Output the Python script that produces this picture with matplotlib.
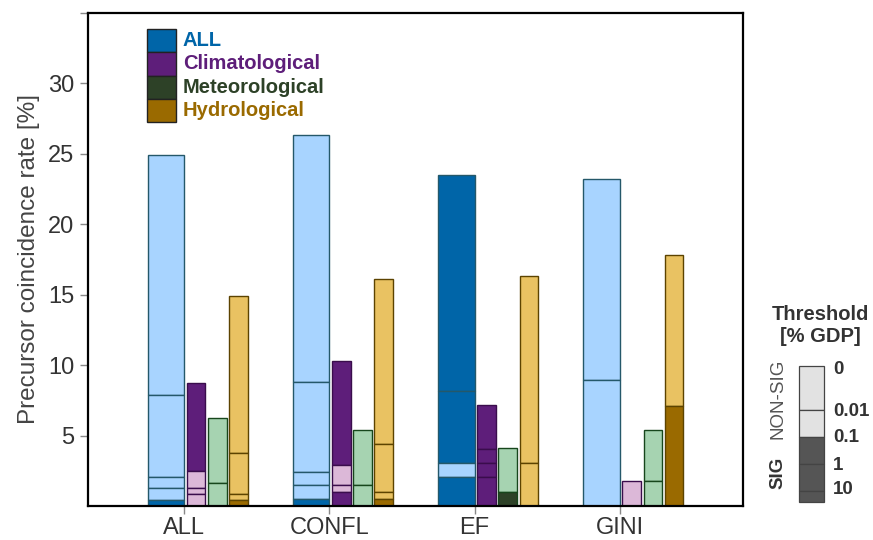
import matplotlib
matplotlib.use("Agg")
import matplotlib.pyplot as plt
from matplotlib.patches import Rectangle

plt.rcParams['font.family'] = ['Liberation Sans', 'DejaVu Sans']

groups = ['ALL', 'CONFL', 'EF', 'GINI']
categories = ['ALL', 'Climatological', 'Meteorological', 'Hydrological']
thresholds = ['0', '0.01', '0.1', '1', '10']

# rate [%] at thresholds 0, 0.01, 0.1, 1, 10 (% GDP) for each group / category
rates_ALL = [[24.9, 7.9, 2.06, 1.26, 0.43],
             [8.72, 2.49, 1.26, 0.83, 0.0],
             [6.24, 1.66, 0.0, 0.0, 0.0],
             [14.93, 3.75, 0.83, 0.43, 0.0]]
rates_CONFL = [[26.35, 8.8, 2.44, 1.47, 0.5],
               [10.26, 2.92, 1.47, 1.0, 0.0],
               [5.38, 1.47, 0.0, 0.0, 0.0],
               [16.1, 4.39, 0.97, 0.5, 0.0]]
rates_EF = [[23.47, 8.15, 3.03, 2.06, 0.0],
            [7.16, 4.08, 3.06, 2.06, 0.0],
            [4.1, 1.02, 0.0, 0.0, 0.0],
            [16.35, 3.06, 0.0, 0.0, 0.0]]
rates_GINI = [[23.2, 8.94, 0.0, 0.0, 0.0],
              [1.78, 0.0, 0.0, 0.0, 0.0],
              [5.38, 1.78, 0.0, 0.0, 0.0],
              [17.85, 7.13, 0.0, 0.0, 0.0]]

# significance of each segment (1 = SIG, 0 = NON-SIG)
sig_ALL = [[0, 0, 0, 0, 1], [1, 0, 0, 0, 0], [0, 0, 0, 0, 0], [0, 0, 0, 1, 0]]
sig_CONFL = [[0, 0, 0, 0, 1], [1, 0, 0, 1, 0], [0, 0, 0, 0, 0], [0, 0, 0, 1, 0]]
sig_EF = [[1, 1, 0, 1, 0], [1, 1, 1, 1, 1], [0, 1, 0, 0, 0], [0, 0, 0, 0, 0]]
sig_GINI = [[0, 0, 0, 0, 0], [0, 0, 0, 0, 0], [0, 0, 0, 0, 0], [0, 1, 0, 0, 0]]

rates = [rates_ALL, rates_CONFL, rates_EF, rates_GINI]
sigs = [sig_ALL, sig_CONFL, sig_EF, sig_GINI]

dark_colors = ['#0065a8', '#5e1e7a', '#2d4127', '#9a6a00']
light_colors = ['#a8d4ff', '#dcb8d8', '#a6d3b1', '#e9c262']
edge_colors = ['#24586a', '#3a0d4c', '#17461c', '#5c4300']

offsets = [-0.252, 0.017, 0.163, 0.31]
widths = [0.252, 0.128, 0.128, 0.128]

fig = plt.figure(figsize=(8.73, 5.40), dpi=100)
ax = fig.add_axes([88 / 873, 34 / 540, 655 / 873, 493 / 540])

for gi, g in enumerate(groups):
    x = gi + 1
    for ci in range(len(categories)):
        vals = rates[gi][ci]
        sg = sigs[gi][ci]
        for si in range(len(vals)):
            top = vals[si]
            bot = vals[si + 1] if si + 1 < len(vals) else 0.0
            if top <= bot:
                continue
            col = dark_colors[ci] if sg[si] else light_colors[ci]
            ax.bar(x + offsets[ci], top - bot, bottom=bot, width=widths[ci],
                   align='edge', color=col, edgecolor=edge_colors[ci],
                   linewidth=1.0, zorder=2)

ax.set_xlim(0.337, 4.848)
ax.set_ylim(0, 35)
ax.set_xticks(range(1, len(groups) + 1))
ax.set_xticklabels(groups)
ax.set_yticks([5, 10, 15, 20, 25, 30, 35])
ax.set_yticklabels(['5', '10', '15', '20', '25', '30', ''])
ax.tick_params(axis='both', direction='out', length=6, width=1.0,
               color='#888888', labelcolor='#333333', labelsize=17, pad=4)
ax.tick_params(axis='x', pad=2)
for s in ax.spines.values():
    s.set_linewidth(1.6)
    s.set_color('black')
ax.set_ylabel('Precursor coincidence rate [%]', fontsize=17.5, color='#444444',
              labelpad=6)

# category legend (axes coords)
ph = 23.3 / 493
ytop = (506.4 - 29.3) / 493
for ci, cat in enumerate(categories):
    y0 = ytop - (ci + 1) * ph
    ax.add_patch(Rectangle((0.090, y0), 0.044, ph, transform=ax.transAxes,
                           facecolor=dark_colors[ci], edgecolor='#222222',
                           linewidth=1.0, zorder=5, clip_on=False))
    ax.text(0.145, y0 + ph / 2, cat, transform=ax.transAxes, fontsize=14.5,
            fontweight='bold', color=dark_colors[ci], va='center', ha='left')

# threshold legend (figure coords)
bx0, bw = 799 / 873, 25 / 873
ys = [366, 410, 436.7, 464.3, 490.7, 501.7]
seg_sig = [0, 0, 1, 1, 1]
for i in range(5):
    ytop_f = 1 - ys[i] / 540
    ybot_f = 1 - ys[i + 1] / 540
    fig.patches.append(Rectangle((bx0, ybot_f), bw, ytop_f - ybot_f,
                                 transform=fig.transFigure,
                                 facecolor='#555555' if seg_sig[i] else '#e2e2e2',
                                 edgecolor='#444444', linewidth=0.9))
lab_y = [370, 412, 437, 466, 490]
for t, yy in zip(thresholds, lab_y):
    fig.text(833 / 873, 1 - yy / 540, t, fontsize=13.5, fontweight='bold',
             color='#333333', va='center', ha='left')
fig.text(820 / 873, 1 - 315 / 540, 'Threshold', fontsize=14.5, fontweight='bold',
         color='#333333', ha='center', va='center')
fig.text(820 / 873, 1 - 337 / 540, '[% GDP]', fontsize=14.5, fontweight='bold',
         color='#333333', ha='center', va='center')
fig.text(778 / 873, 1 - 399 / 540, 'NON-SIG', fontsize=13.5, rotation=90,
         color='#555555', ha='center', va='center')
fig.text(778 / 873, 1 - 473 / 540, 'SIG', fontsize=13.5, rotation=90,
         fontweight='bold', color='#333333', ha='center', va='center')

fig.savefig('out.png', dpi=100)
